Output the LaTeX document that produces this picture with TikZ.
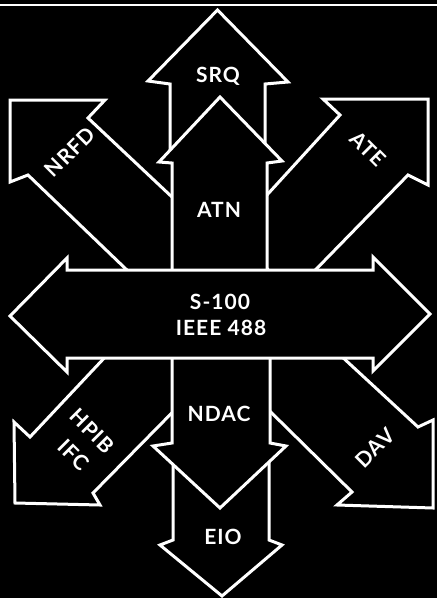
\documentclass[tikz,border=0pt]{standalone}
\usepackage{fontspec}
\setmainfont{Lato}[LetterSpace=5]
\begin{document}
\begin{tikzpicture}[x=1pt,y=-1pt,
  arr/.style={draw=white,fill=black,line width=3pt,line join=miter},
  lbl/.style={text=white,font=\fontsize{21}{25}\selectfont\bfseries,align=center,inner sep=0pt}]
\fill[black] (0,0) rectangle (437,598);
\useasboundingbox (0,0) rectangle (437,598);
\draw[white,line width=2.5pt] (0,5) -- (437,5);
% SRQ (up, back)
\draw[arr] (170,155) -- (170,84) -- (148,81) -- (217.5,10) -- (288,82) -- (265,84) -- (265,155) -- cycle;
% NRFD (up-left)
\draw[arr] (154,296) -- (28,175) -- (10,182) -- (10,100) -- (105,100) -- (88,118) -- (206,229) -- cycle;
% ATE (up-right)
\draw[arr] (290,296) -- (408,175) -- (428,185) -- (428,99) -- (323,99) -- (340,115) -- (235,230) -- cycle;
% ATN (up)
\draw[arr] (172,285) -- (172,163) -- (159,162) -- (220,97) -- (282,161) -- (267,163) -- (267,285) -- cycle;
% EIO (down, back)
\draw[arr] (173,420) -- (173,540) -- (160,545) -- (222,596) -- (282,545) -- (269,540) -- (269,420) -- cycle;
% HPIB IFC (down-left)
\draw[arr] (139,321) -- (30,437) -- (14,422) -- (15,503) -- (100,505) -- (93,493) -- (219,365) -- cycle;
% DAV (down-right)
\draw[arr] (313,330) -- (418,427) -- (433,420) -- (433,508) -- (337,505) -- (352,492) -- (224,366) -- cycle;
% NDAC (down)
\draw[arr] (172,300) -- (172,443) -- (153,446) -- (220,508) -- (286,446) -- (270,443) -- (270,300) -- cycle;
% S-100 (double)
\draw[arr] (67,270) -- (373,270) -- (373,257) -- (430,314) -- (373,371) -- (373,358) -- (67,358) -- (67,372) -- (10,316) -- (67,258) -- cycle;
% labels
\node[lbl] (srq) at (218,76) {SRQ};
\node[lbl] (atn) at (219,210) {ATN};
\node[lbl] (s100) at (220,302) {S-100};
\node[lbl] (ieee) at (221,328) {IEEE 488};
\node[lbl] (ndac) at (219,414) {NDAC};
\node[lbl] (eio) at (223,537) {EIO};
\node[lbl,rotate=45] (nrfd) at (70,152) {NRFD};
\node[lbl,rotate=-45] (ate) at (368,149) {ATE};
\node[lbl,rotate=-45] (hpib) at (92,431) {HPIB};
\node[lbl,rotate=-45] (ifc) at (74,455) {IFC};
\node[lbl,rotate=45] (dav) at (375,448) {DAV};
\end{tikzpicture}
\end{document}
